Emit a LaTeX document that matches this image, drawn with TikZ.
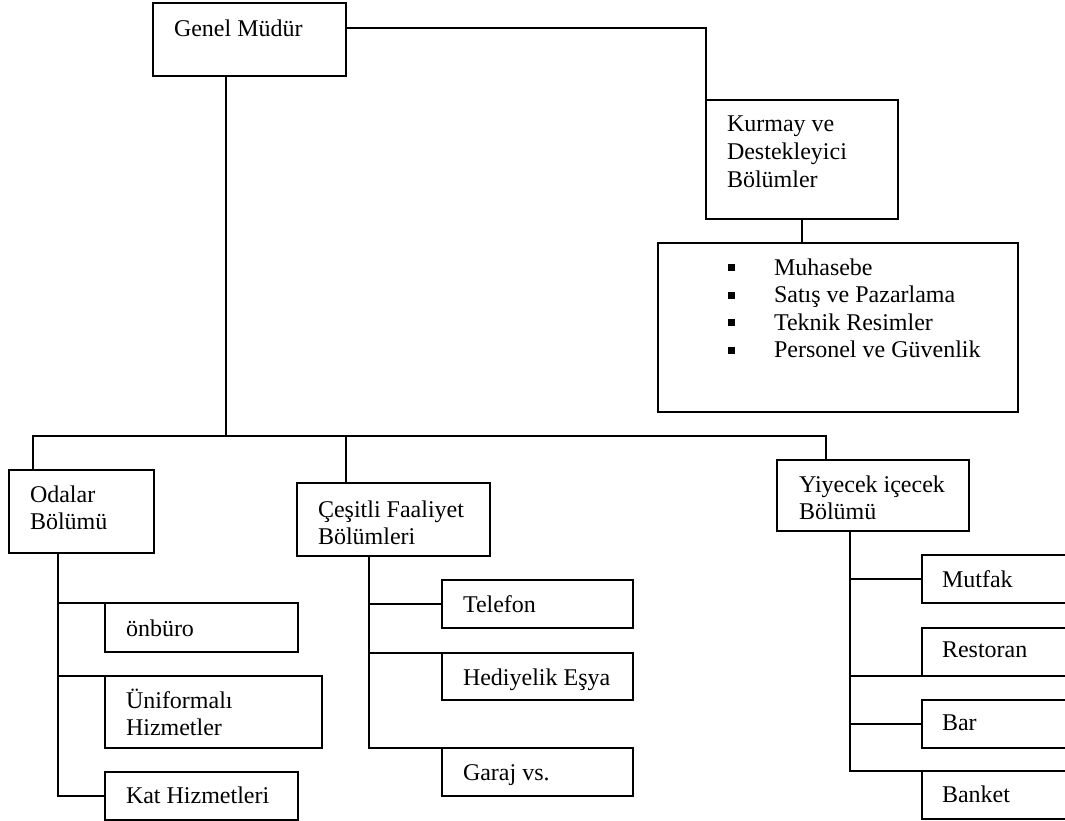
\documentclass[tikz,border=0pt]{standalone}
\usepackage{fontspec}
\setmainfont{Liberation Serif}
\newcommand\fsz{\fontsize{24}{27.6}\selectfont}
\tikzset{
  box/.style={draw, line width=1.8pt, rectangle, anchor=north west, inner sep=0pt, outer sep=0pt},
  lbl/.style={anchor=north west, inner sep=0pt, outer sep=0pt, align=left, font=\fsz},
  conn/.style={line width=1.8pt}
}
\newcommand\bx[5]{\node[box, minimum width=#4pt, minimum height=#5pt] (#1) at (#2,#3) {};}
\newcommand\tx[4]{\node[lbl] (#1) at (#2,{#3-19.32}) {\strut #4};}
\newcommand\blt{\makebox[46pt][l]{\rule[4pt]{7pt}{7pt}}}
\begin{document}
\begin{tikzpicture}[x=1pt,y=-1pt]
\useasboundingbox (0,0) rectangle (1065,821);
\clip (0,0) rectangle (1065,821);
% boxes
\bx{gm}{153}{3}{193}{73}
\bx{km}{706}{100}{192}{119}
\bx{lst}{658}{243}{360}{169}
\bx{od}{9}{470}{145}{83}
\bx{onb}{105}{603}{193}{49}
\bx{uni}{105}{676}{217}{72}
\bx{kat}{105}{772}{193}{48}
\bx{ce}{297}{483}{193}{73}
\bx{tel}{442}{580}{191}{48}
\bx{hed}{442}{653}{191}{47}
\bx{gar}{442}{748}{191}{48}
\bx{yi}{777}{460}{192}{71}
\bx{mut}{922}{555}{180}{48}
\bx{res}{922}{628}{180}{48}
\bx{bar}{922}{700}{180}{48}
\bx{ban}{922}{771}{180}{48}
% texts
\tx{tgm}{174}{37}{Genel Müdür}
\tx{tkm}{727}{132}{Kurmay ve\\Destekleyici\\Bölümler}
\node[lbl] (tlst) at (728,{275-19.32}) {\strut\blt Muhasebe\\\blt Satış ve Pazarlama\\\blt Teknik Resimler\\\blt Personel ve Güvenlik};
\tx{tod}{30}{502}{Odalar\\Bölümü}
\tx{tonb}{126}{636}{önbüro}
\tx{tuni}{126}{708}{Üniformalı\\Hizmetler}
\tx{tkat}{126}{803}{Kat Hizmetleri}
\tx{tce}{318}{517}{Çeşitli Faaliyet\\Bölümleri}
\tx{ttel}{463}{612}{Telefon}
\tx{thed}{463}{685}{Hediyelik Eşya}
\tx{tgar}{463}{780}{Garaj vs.}
\tx{tyi}{799}{492}{Yiyecek içecek\\Bölümü}
\tx{tmut}{942}{587}{Mutfak}
\tx{tres}{942}{657}{Restoran}
\tx{tbar}{942}{730}{Bar}
\tx{tban}{942}{802}{Banket}
% connectors
\coordinate (j) at (226,436);
\draw[conn] ([yshift=-25pt]gm.north east) -| (km.north west);
\draw[conn] (km.south) -- (km.south |- lst.north);
\draw[conn] ([xshift=73pt]gm.south west) -- (j);
\draw[conn] ([xshift=24pt]od.north west) |- (j) -| ([xshift=49pt]yi.north west);
\draw[conn] ([xshift=49pt]ce.north west) -- ([xshift=49pt]ce.north west |- j);
% Odalar
\coordinate (odt) at ([xshift=49pt]od.south west);
\draw[conn] (odt) |- (kat.west);
\draw[conn] (odt |- onb.north west) -- (onb.north west);
\draw[conn] (odt |- uni.north west) -- (uni.north west);
% Cesitli
\coordinate (cet) at ([xshift=72pt]ce.south west);
\draw[conn] (cet) |- (gar.north west);
\draw[conn] (cet |- tel.west) -- (tel.west);
\draw[conn] (cet |- hed.north west) -- (hed.north west);
% Yiyecek
\coordinate (yit) at ([xshift=73pt]yi.south west);
\draw[conn] (yit) |- (ban.north west);
\draw[conn] (yit |- mut.west) -- (mut.west);
\draw[conn] (yit |- res.south west) -- (res.south west);
\draw[conn] (yit |- bar.west) -- (bar.west);
\end{tikzpicture}
\end{document}
